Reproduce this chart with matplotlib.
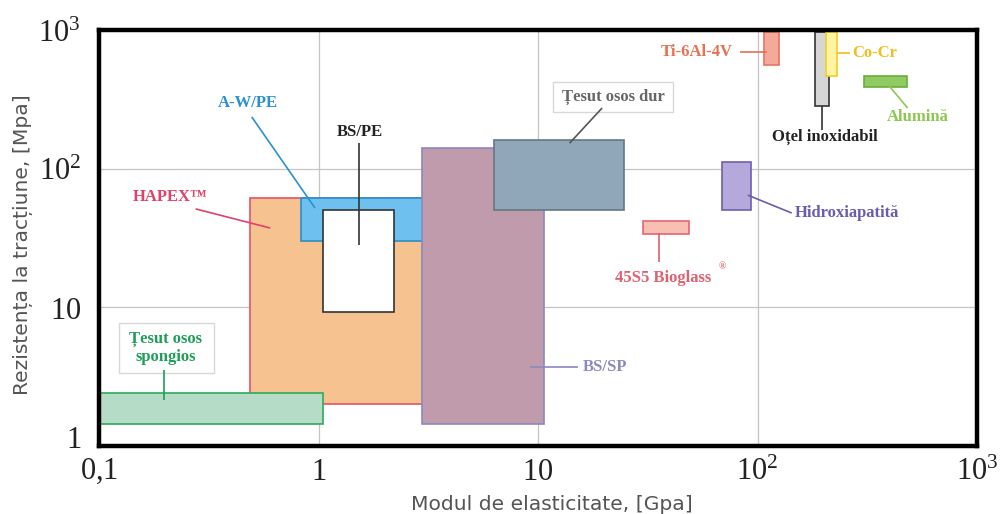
import matplotlib
matplotlib.use("Agg")
import matplotlib.pyplot as plt
from matplotlib.transforms import ScaledTranslation

plt.rcParams['mathtext.fontset'] = 'custom'
plt.rcParams['mathtext.rm'] = 'Liberation Serif'
plt.rcParams['mathtext.default'] = 'rm'

# Material property ranges: elastic modulus [GPa] and tensile strength [MPa]
materials = ["HAPEX", "A-W/PE", "BS/PE", "Țesut osos spongios", "BS/SP",
             "Țesut osos dur", "45S5 Bioglass", "Hidroxiapatită", "Ti-6Al-4V",
             "Oțel inoxidabil", "Co-Cr", "Alumină"]
modulus_low = [0.49, 0.83, 1.05, 0.1, 2.95, 6.3, 30, 69, 107, 183, 205, 305]
modulus_high = [3.0, 3.0, 2.2, 1.05, 10.6, 24.6, 49, 93, 125, 212, 230, 480]
strength_low = [2.0, 30, 9.3, 1.45, 1.45, 50, 34, 50, 560, 283, 465, 388]
strength_high = [61, 61, 50, 2.4, 140, 160, 42, 112, 960, 960, 960, 465]

x_ticks = [0.1, 1, 10, 100, 1000]
x_tick_labels = ["$0{,}1$", "$1$", "$10$", "$10^2$", "$10^3$"]
y_ticks = [1, 10, 100, 1000]
y_tick_labels = ["$1$", "$10$", "$10^2$", "$10^3$"]

face_colors = ["#f5c290", "#6ec1ee", "#ffffff", "#b5dcc6", "#c09bac",
               "#8fa7b8", "#f8c0b2", "#b5a9dc", "#f4aa9a", "#d6d6d6",
               "#fff4a4", "#8fca62"]
edge_colors = ["#e8506a", "#2a8fc8", "#333333", "#2eaa5c", "#8a88c0",
               "#66777f", "#e86474", "#6e60b0", "#e87462", "#333333",
               "#f0d020", "#6aae3a"]

fig = plt.figure(figsize=(10, 5.14), dpi=100)
ax = fig.add_axes([0.099, 0.1323, 0.878, 0.8093])
ax.set_xscale("log")
ax.set_yscale("log")

ax.set_axisbelow(True)
ax.grid(True, which="major", color="#c4c4c4", linewidth=0.9)

for i in range(len(materials)):
    ax.bar(x=modulus_low[i], height=strength_high[i] - strength_low[i],
           width=modulus_high[i] - modulus_low[i], bottom=strength_low[i],
           align="edge", color=face_colors[i], edgecolor=edge_colors[i],
           linewidth=1.2, zorder=2 + i * 0.01)

for s in ax.spines.values():
    s.set_linewidth(3.2)
    s.set_color("black")
    s.set_zorder(10)

ax.set_xlim(0.1, 1000)
ax.set_ylim(1, 1000)
ax.set_xticks(x_ticks)
ax.set_xticklabels(x_tick_labels)
ax.set_yticks(y_ticks)
ax.set_yticklabels(y_tick_labels)
ax.minorticks_off()
ax.tick_params(axis="both", length=0, labelsize=22, colors="#222222")
ax.tick_params(axis="x", pad=8)
ax.tick_params(axis="y", pad=13)
first = ax.yaxis.get_major_ticks()[0].label1
first.set_transform(first.get_transform() +
                    ScaledTranslation(0, 9 / 100, fig.dpi_scale_trans))

fig.text(0.552, 1 - 504 / 514, "Modul de elasticitate, [Gpa]", ha="center",
         va="center", fontsize=14.6, color="#555555", family="DejaVu Sans")
fig.text(0.023, 1 - 245 / 514, "Rezistența la tracțiune, [Mpa]", ha="center",
         va="center", rotation=90, fontsize=14.6, color="#555555",
         family="DejaVu Sans")

label_font = dict(family="Liberation Serif", weight="bold", fontsize=12,
                  ha="center", va="center", transform=ax.transAxes, zorder=6)


def leader(p0, p1, color):
    ax.plot([p0[0], p1[0]], [p0[1], p1[1]], color=color, linewidth=1.2,
            transform=ax.transAxes, zorder=5, solid_capstyle="butt")


# A-W/PE
ax.text(0.170, 0.825, "A-W/PE", color="#2a90d0", **label_font)
leader((0.174, 0.791), (0.246, 0.572), "#2a90d0")
# BS/PE
ax.text(0.297, 0.755, "BS/PE", color="#222222", **label_font)
leader((0.296, 0.728), (0.296, 0.483), "#333333")
# HAPEX
ax.text(0.081, 0.599, "HAPEX™", color="#e0406a", **label_font)
leader((0.110, 0.570), (0.195, 0.524), "#e0406a")
# cortical bone
ax.add_patch(plt.Rectangle((0.517, 0.803), 0.137, 0.072, transform=ax.transAxes,
                           facecolor="white", edgecolor="#d8d8d8",
                           linewidth=1.0, zorder=4))
ax.text(0.5855, 0.839, "Țesut osos dur", color="#666666", **label_font)
leader((0.573, 0.8125), (0.536, 0.728), "#555555")
# Ti-6Al-4V
ax.text(0.681, 0.947, "Ti-6Al-4V", color="#e87050", **label_font)
leader((0.730, 0.947), (0.761, 0.947), "#e87050")
# Co-Cr
ax.text(0.883, 0.945, "Co-Cr", color="#eec020", **label_font)
leader((0.8405, 0.945), (0.855, 0.945), "#eec020")
# Alumina
ax.text(0.932, 0.791, "Alumină", color="#8cc850", **label_font)
leader((0.899, 0.868), (0.921, 0.8125), "#8cc850")
# Stainless steel
ax.text(0.827, 0.743, "Oțel inoxidabil", color="#222222", **label_font)
leader((0.823, 0.817), (0.823, 0.760), "#333333")
# Hydroxyapatite
ax.text(0.852, 0.560, "Hidroxiapatită", color="#6a5cae", **label_font)
leader((0.739, 0.603), (0.789, 0.560), "#6a5cae")
# Bioglass
ax.text(0.642, 0.404, "45S5 Bioglass", color="#e06070", **label_font)
ax.text(0.7095, 0.432, "®", color="#e06070", family="Liberation Serif",
        weight="bold", fontsize=7, ha="center", va="center",
        transform=ax.transAxes, zorder=6)
leader((0.638, 0.512), (0.638, 0.442), "#e06070")
# BS/SP
ax.text(0.576, 0.190, "BS/SP", color="#8c88c4", **label_font)
leader((0.491, 0.190), (0.5455, 0.190), "#8c88c4")
# cancellous bone
ax.add_patch(plt.Rectangle((0.0228, 0.1755), 0.108, 0.1202,
                           transform=ax.transAxes, facecolor="white",
                           edgecolor="#d8d8d8", linewidth=1.0, zorder=4))
ax.text(0.0763, 0.2356, "Țesut osos\nspongios", color="#1e9e58",
        linespacing=1.2, **label_font)
leader((0.074, 0.183), (0.074, 0.111), "#1e9e58")

fig.savefig("out.png", dpi=100)
